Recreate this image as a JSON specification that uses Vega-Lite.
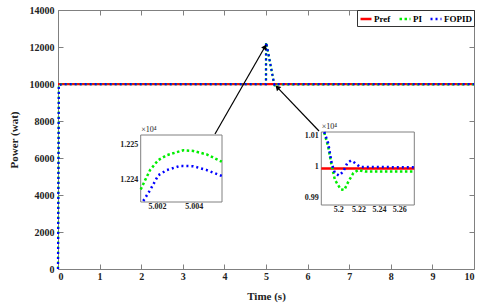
{
  "$schema": "https://vega.github.io/schema/vega-lite/v6.json",
  "width": 416,
  "height": 259,
  "autosize": {"type": "none"},
  "padding": {"left": 58, "top": 10, "right": 6, "bottom": 38},
  "background": "white",
  "config": {
    "view": {"stroke": "#808080", "strokeWidth": 1},
    "font": "Liberation Serif",
    "axis": {
      "labelFont": "Liberation Serif", "labelFontWeight": "bold", "labelColor": "#222",
      "titleFont": "Liberation Serif", "titleFontWeight": "bold", "titleColor": "#222",
      "domainColor": "#808080", "tickColor": "#808080", "grid": false
    }
  },
  "datasets": {
    "d": [
      {"t": 0, "P": 9993, "s": "Pref"}, {"t": 5.1833, "P": 9993, "s": "Pref"}, {"t": 5.2748, "P": 9993, "s": "Pref"}, {"t": 10, "P": 9993, "s": "Pref"},
      {"t": 0, "P": 0, "s": "PI"}, {"t": 0.02, "P": 9950, "s": "PI"}, {"t": 0.1, "P": 9993, "s": "PI"}, {"t": 5.0, "P": 9993, "s": "PI"},
      {"t": 5.00111, "P": 12237.1, "s": "PI"}, {"t": 5.00135, "P": 12239.8, "s": "PI"}, {"t": 5.00162, "P": 12242.7, "s": "PI"},
      {"t": 5.00207, "P": 12245.6, "s": "PI"}, {"t": 5.00253, "P": 12247.0, "s": "PI"}, {"t": 5.00343, "P": 12248.4, "s": "PI"},
      {"t": 5.00398, "P": 12248.2, "s": "PI"}, {"t": 5.00471, "P": 12247.2, "s": "PI"}, {"t": 5.00553, "P": 12245.1, "s": "PI"},
      {"t": 5.1862, "P": 10110, "s": "PI"}, {"t": 5.1901, "P": 10064, "s": "PI"}, {"t": 5.1935, "P": 10002, "s": "PI"},
      {"t": 5.1967, "P": 9956, "s": "PI"}, {"t": 5.2024, "P": 9925, "s": "PI"}, {"t": 5.2059, "P": 9923, "s": "PI"},
      {"t": 5.2099, "P": 9950, "s": "PI"}, {"t": 5.2148, "P": 9978, "s": "PI"}, {"t": 5.2197, "P": 9988, "s": "PI"},
      {"t": 5.2263, "P": 9983, "s": "PI"}, {"t": 5.2748, "P": 9983, "s": "PI"}, {"t": 10, "P": 9983, "s": "PI"},
      {"t": 0, "P": 0, "s": "FOPID"}, {"t": 0.02, "P": 9950, "s": "FOPID"}, {"t": 0.1, "P": 9993, "s": "FOPID"}, {"t": 5.0, "P": 9993, "s": "FOPID"},
      {"t": 5.00125, "P": 12233.8, "s": "FOPID"}, {"t": 5.00162, "P": 12236.9, "s": "FOPID"}, {"t": 5.00207, "P": 12241.2, "s": "FOPID"},
      {"t": 5.00253, "P": 12242.7, "s": "FOPID"}, {"t": 5.00325, "P": 12243.9, "s": "FOPID"}, {"t": 5.00398, "P": 12243.8, "s": "FOPID"},
      {"t": 5.00471, "P": 12242.7, "s": "FOPID"}, {"t": 5.00553, "P": 12241.0, "s": "FOPID"},
      {"t": 5.1862, "P": 10118, "s": "FOPID"}, {"t": 5.1901, "P": 10075, "s": "FOPID"}, {"t": 5.1935, "P": 10010, "s": "FOPID"},
      {"t": 5.1967, "P": 9978, "s": "FOPID"}, {"t": 5.2007, "P": 9970, "s": "FOPID"}, {"t": 5.2049, "P": 9983, "s": "FOPID"},
      {"t": 5.2089, "P": 10011, "s": "FOPID"}, {"t": 5.2125, "P": 10019, "s": "FOPID"}, {"t": 5.2164, "P": 10011, "s": "FOPID"},
      {"t": 5.2214, "P": 9998, "s": "FOPID"}, {"t": 5.228, "P": 9998, "s": "FOPID"}, {"t": 5.2748, "P": 9997, "s": "FOPID"},
      {"t": 10, "P": 9997, "s": "FOPID"}
    ],
    "arrows": [
      {"x0": 3.774, "y0": 7297, "x1": 4.976, "y1": 12016, "a": "up"},
      {"x0": 6.274, "y0": 7459, "x1": 5.272, "y1": 9822, "a": "down"}
    ]
  },
  "resolve": {
    "scale": {"x": "independent", "y": "independent", "color": "shared", "strokeDash": "shared"},
    "axis": {"x": "independent", "y": "independent"}
  },
  "layer": [
    {
      "resolve": {"axis": {"x": "independent", "y": "independent"}},
      "layer": [
        {
          "data": {"name": "d"},
          "mark": {"type": "line", "strokeWidth": 2.2, "strokeCap": "butt"},
          "encoding": {
            "x": {"field": "t", "type": "quantitative",
              "scale": {"domain": [0, 10], "nice": false, "zero": false},
              "axis": {"orient": "bottom", "values": [0,1,2,3,4,5,6,7,8,9,10], "tickSize": -5, "labelPadding": 7,
                "labelFontSize": 10, "domain": false, "title": "Time (s)", "titleFontSize": 11, "titlePadding": 9}},
            "y": {"field": "P", "type": "quantitative",
              "scale": {"domain": [0, 14000], "nice": false, "zero": false},
              "axis": {"orient": "left", "values": [0,2000,4000,6000,8000,10000,12000,14000], "format": "d", "tickSize": -5, "labelPadding": 9,
                "labelFontSize": 10, "domain": false, "title": "Power (wat)", "titleFontSize": 11, "titlePadding": 10}},
            "color": {"field": "s", "type": "nominal",
              "scale": {"domain": ["Pref", "PI", "FOPID"], "range": ["#ff0000", "#00ee00", "#0000ff"]},
              "legend": {"orient": "top-right", "direction": "horizontal", "title": null, "fillColor": "white",
                "strokeColor": "#333", "padding": 2, "offset": 0, "labelFont": "Liberation Serif", "labelFontWeight": "bold",
                "labelFontSize": 9, "symbolType": "stroke", "symbolStrokeWidth": 2.5, "symbolSize": 120, "columnPadding": 3, "labelOffset": 1}},
            "strokeDash": {"field": "s", "type": "nominal",
              "scale": {"domain": ["Pref", "PI", "FOPID"], "range": [[1, 0], [2.5, 2.5], [2, 3]]}}
          }
        },
        {
          "data": {"name": "arrows"},
          "mark": {"type": "rule", "color": "black", "strokeWidth": 1.2},
          "encoding": {
            "x": {"field": "x0", "type": "quantitative", "scale": {"domain": [0, 10], "nice": false, "zero": false},
              "axis": {"orient": "top", "values": [0,1,2,3,4,5,6,7,8,9,10], "tickSize": -5, "labels": false, "domain": false, "title": null}},
            "y": {"field": "y0", "type": "quantitative", "scale": {"domain": [0, 14000], "nice": false, "zero": false},
              "axis": {"orient": "right", "values": [0,2000,4000,6000,8000,10000,12000,14000], "tickSize": -5, "labels": false, "domain": false, "title": null}},
            "x2": {"field": "x1"},
            "y2": {"field": "y1"}
          }
        },
        {
          "data": {"name": "arrows"},
          "transform": [{"filter": "datum.a == 'up'"}],
          "mark": {"type": "point", "shape": "triangle-up", "filled": true, "color": "black", "size": 35, "angle": 30, "opacity": 1},
          "encoding": {
            "x": {"field": "x1", "type": "quantitative", "axis": null},
            "y": {"field": "y1", "type": "quantitative", "axis": null}
          }
        },
        {
          "data": {"name": "arrows"},
          "transform": [{"filter": "datum.a == 'down'"}],
          "mark": {"type": "point", "shape": "triangle-up", "filled": true, "color": "black", "size": 35, "angle": 316, "opacity": 1},
          "encoding": {
            "x": {"field": "x1", "type": "quantitative", "axis": null},
            "y": {"field": "y1", "type": "quantitative", "axis": null}
          }
        }
      ]
    },
    {
      "layer": [
        {
          "data": {"values": [{}]},
          "mark": {"type": "rect", "fill": "white", "stroke": "#808080", "strokeWidth": 1},
          "encoding": {
            "x": {"datum": 5.00111, "type": "quantitative"},
            "x2": {"datum": 5.00554},
            "y": {"datum": 12233.5, "type": "quantitative"},
            "y2": {"datum": 12252.8}
          }
        },
        {
          "data": {"name": "d"},
          "transform": [{"filter": "datum.t >= 5.0011 && datum.t <= 5.0056 && datum.s != 'Pref'"}],
          "mark": {"type": "line", "strokeWidth": 2.5, "strokeCap": "butt"},
          "encoding": {
            "x": {"field": "t", "type": "quantitative",
              "scale": {"domain": [5.00111, 5.00554], "range": [82.7, 164], "nice": false, "zero": false, "clamp": true},
              "axis": {"orient": "bottom", "offset": -67, "values": [5.002, 5.004], "format": "~g", "tickSize": -3, "labelPadding": 3,
                "labelFontSize": 8, "domain": false, "title": null}},
            "y": {"field": "P", "type": "quantitative",
              "scale": {"domain": [12233.5, 12252.8], "range": [192, 125], "nice": false, "zero": false, "clamp": true},
              "axis": {"orient": "left", "offset": -82.7, "values": [12240, 12250], "labelExpr": "format(datum.value / 10000, '.4~g')",
                "tickSize": -3, "labelPadding": 6, "labelFontSize": 8, "domain": false,
                "title": "×10⁴", "titleAngle": 0, "titleX": 0, "titleY": 123, "titleAlign": "left", "titleBaseline": "bottom",
                "titleFontSize": 8, "titleFontWeight": "normal"}},
            "color": {"field": "s", "type": "nominal"},
            "strokeDash": {"field": "s", "type": "nominal"}
          }
        }
      ]
    },
    {
      "layer": [
        {
          "data": {"values": [{}]},
          "mark": {"type": "rect", "fill": "white", "stroke": "#808080", "strokeWidth": 1},
          "encoding": {
            "x": {"datum": 5.1833, "type": "quantitative"},
            "x2": {"datum": 5.2748},
            "y": {"datum": 9874, "type": "quantitative"},
            "y2": {"datum": 10112}
          }
        },
        {
          "data": {"name": "d"},
          "transform": [{"filter": "datum.t >= 5.183 && datum.t <= 5.275"}],
          "mark": {"type": "line", "strokeWidth": 2.5, "strokeCap": "butt"},
          "encoding": {
            "x": {"field": "t", "type": "quantitative",
              "scale": {"domain": [5.1833, 5.2748], "range": [263.3, 356.3], "nice": false, "zero": false, "clamp": true},
              "axis": {"orient": "bottom", "offset": -64, "values": [5.2, 5.22, 5.24, 5.26], "format": "~g", "tickSize": -3, "labelPadding": 3,
                "labelFontSize": 8, "domain": false, "title": null}},
            "y": {"field": "P", "type": "quantitative",
              "scale": {"domain": [9874, 10112], "range": [195, 122], "nice": false, "zero": false, "clamp": true},
              "axis": {"orient": "left", "offset": -263.3, "values": [9900, 10000, 10100], "labelExpr": "format(datum.value / 10000, '.4~g')",
                "tickSize": -3, "labelPadding": 6, "labelFontSize": 8, "domain": false,
                "title": "×10⁴", "titleAngle": 0, "titleX": 0, "titleY": 120, "titleAlign": "left", "titleBaseline": "bottom",
                "titleFontSize": 8, "titleFontWeight": "normal"}},
            "color": {"field": "s", "type": "nominal"},
            "strokeDash": {"field": "s", "type": "nominal"}
          }
        }
      ]
    }
  ]
}
